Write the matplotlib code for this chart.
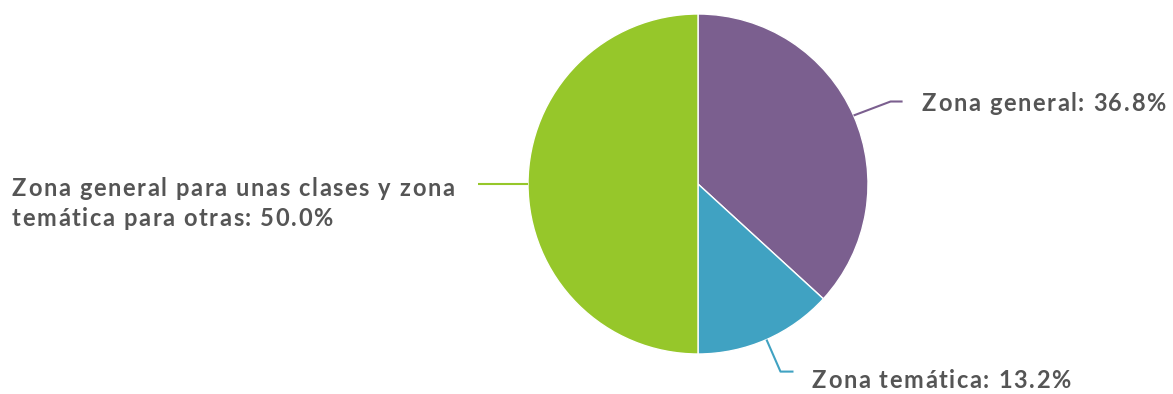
import matplotlib.pyplot as plt
import numpy as np

plt.rcParams['font.family'] = ['Lato', 'DejaVu Sans']

# Distribución de zonas
etiquetas = ['Zona general', 'Zona temática',
             'Zona general para unas clases y zona\ntemática para otras']
valores = [36.8, 13.2, 50.0]
colores = ['#7B5F8F', '#40A2C2', '#96C72A']
texto_color = '#555555'

W, H = 1173, 394
fig = plt.figure(figsize=(W / 100, H / 100), dpi=100)
ax = fig.add_axes([0, 0, 1, 1])

cx, cy, r = 698, H - 184, 170
wedges, _ = ax.pie(valores, colors=colores, startangle=90, counterclock=False,
                   center=(cx, cy), radius=r, frame=True,
                   wedgeprops=dict(edgecolor='white', linewidth=1))
ax.set_xlim(0, W)
ax.set_ylim(0, H)
ax.set_aspect('equal')
ax.axis('off')

renderer = fig.canvas.get_renderer()
fuente = dict(color=texto_color, fontsize=17, fontweight='bold', va='center')


def ancho(s):
    # ancho de avance aproximado (en píxeles) de una cadena
    t = ax.text(0, 0, s + 'x', **fuente)
    w = t.get_window_extent(renderer).width
    t.remove()
    t = ax.text(0, 0, 'x', **fuente)
    w -= t.get_window_extent(renderer).width
    t.remove()
    return w


def texto_espaciado(x, y, s, extra=1.6, interlinea=30):
    # dibuja el texto letra a letra con espaciado adicional
    for k, linea in enumerate(s.split('\n')):
        yy = y - k * interlinea
        for i, c in enumerate(linea):
            if c == ' ':
                continue
            ax.text(x + ancho(linea[:i]) + i * extra, yy, c, **fuente)


# líneas guía: codo (dx, dy), tramo horizontal, posición del texto
guias = [
    ((37, 14), 12, (922, H - 103)),
    ((14, -32), 13, (812, H - 381)),
    ((-50, 0), 0, (12, H - 188)),
]

for w, v, et, col, (codo, tramo, (tx, ty)) in zip(wedges, valores, etiquetas, colores, guias):
    ang = np.deg2rad((w.theta1 + w.theta2) / 2)
    x0, y0 = cx + r * np.cos(ang), cy + r * np.sin(ang)
    x1, y1 = x0 + codo[0], y0 + codo[1]
    x2 = x1 + tramo
    ax.plot([x0, x1, x2], [y0, y1, y1], color=col, lw=1.5, solid_capstyle='butt')
    texto_espaciado(tx, ty, f'{et}: {v:.1f}%')

fig.savefig('out.png', dpi=100)
